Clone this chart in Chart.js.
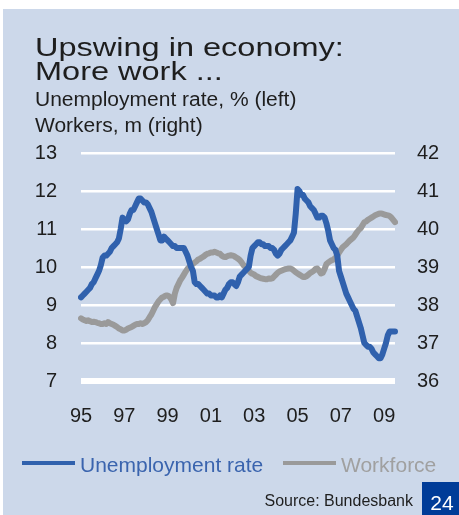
<!DOCTYPE html>
<html>
<head>
<meta charset="utf-8">
<script src="https://cdn.jsdelivr.net/npm/chart.js@4.4.0/dist/chart.umd.min.js"></script>
<style>
  html, body { margin: 0; padding: 0; background: #fff; }
  #wrap { position: relative; width: 459px; height: 515px; }
</style>
</head>
<body>
<div id="wrap"><canvas id="chart" width="459" height="515"></canvas></div>
<script>
// monthly series, Jan 1995 - Jul 2009
const unemployment = [
  9.2, 9.25, 9.3, 9.35, 9.4, 9.45, 9.55, 9.6, 9.7, 9.8, 9.9, 10.05,
  10.25, 10.3, 10.3, 10.35, 10.4, 10.5, 10.55, 10.6, 10.65, 10.75, 11.0, 11.3,
  11.25, 11.2, 11.25, 11.4, 11.5, 11.5, 11.6, 11.7, 11.8, 11.8, 11.75, 11.7,
  11.7, 11.65, 11.55, 11.45, 11.3, 11.15, 11.0, 10.85, 10.7, 10.7, 10.8, 10.75,
  10.7, 10.65, 10.6, 10.55, 10.55, 10.5, 10.5, 10.5, 10.5, 10.5, 10.4, 10.3,
  10.15, 10.0, 9.9, 9.6, 9.55, 9.55, 9.5, 9.45, 9.4, 9.35, 9.3, 9.3,
  9.25, 9.25, 9.25, 9.2, 9.2, 9.25, 9.2, 9.3, 9.4, 9.45, 9.55, 9.6,
  9.6, 9.55, 9.5, 9.6, 9.75, 9.8, 9.85, 9.9, 9.95, 10.0, 10.3, 10.5,
  10.55, 10.6, 10.65, 10.65, 10.6, 10.6, 10.55, 10.55, 10.55, 10.5, 10.5, 10.45,
  10.35, 10.3, 10.35, 10.45, 10.5, 10.55, 10.6, 10.65, 10.7, 10.8, 10.9, 11.4,
  12.05, 12.0, 11.9, 11.9, 11.8, 11.75, 11.7, 11.6, 11.55, 11.5, 11.4, 11.3,
  11.3, 11.35, 11.35, 11.3, 11.15, 10.95, 10.7, 10.6, 10.5, 10.45, 10.3, 9.9,
  9.75, 9.6, 9.45, 9.3, 9.2, 9.1, 9.0, 8.9, 8.85, 8.7, 8.55, 8.4,
  8.2, 8.0, 7.95, 7.9, 7.9, 7.85, 7.75, 7.7, 7.65, 7.6, 7.6, 7.7,
  7.85, 8.0, 8.2, 8.3, 8.3, 8.3, 8.3
];

const workforce = [
  37.65, 37.62, 37.6, 37.58, 37.6, 37.57, 37.55, 37.56, 37.55, 37.53, 37.52, 37.5,
  37.5, 37.52, 37.5, 37.55, 37.52, 37.5, 37.48, 37.45, 37.42, 37.38, 37.36, 37.33,
  37.33, 37.35, 37.38, 37.4, 37.42, 37.45, 37.48, 37.5, 37.5, 37.52, 37.5, 37.52,
  37.55, 37.6, 37.68, 37.75, 37.85, 37.95, 38.02, 38.1, 38.15, 38.2, 38.22, 38.25,
  38.25, 38.22, 38.15, 38.05, 38.3, 38.45, 38.55, 38.65, 38.72, 38.8, 38.88, 38.95,
  39.0, 39.05, 39.08, 39.12, 39.15, 39.2, 39.22, 39.25, 39.28, 39.32, 39.35, 39.36,
  39.38, 39.38, 39.4, 39.38, 39.36, 39.35, 39.3, 39.27, 39.26, 39.28, 39.3, 39.31,
  39.3, 39.28, 39.25, 39.22, 39.18, 39.12, 39.05, 39.0, 38.95, 38.9, 38.85, 38.82,
  38.8, 38.76, 38.74, 38.72, 38.7, 38.69, 38.68, 38.68, 38.7, 38.69, 38.7, 38.75,
  38.8, 38.85, 38.88, 38.9, 38.92, 38.94, 38.95, 38.96, 38.96, 38.94, 38.9, 38.86,
  38.83, 38.8, 38.77, 38.74, 38.74, 38.76, 38.8, 38.84, 38.87, 38.9, 38.95, 38.96,
  38.9, 38.83, 38.85, 38.95, 39.08, 39.12, 39.15, 39.18, 39.2, 39.24, 39.3, 39.38,
  39.45, 39.52, 39.56, 39.6, 39.65, 39.7, 39.74, 39.78, 39.85, 39.92, 39.98, 40.02,
  40.1, 40.18, 40.2, 40.24, 40.27, 40.3, 40.33, 40.36, 40.38, 40.4, 40.41, 40.4,
  40.38, 40.37, 40.36, 40.34, 40.3, 40.24, 40.18
];

const yearTicks = ['95', '97', '99', '01', '03', '05', '07', '09'];
const titleLines = ['Upswing in economy:', 'More work ...'];
const subtitleLines = ['Unemployment rate, % (left)', 'Workers, m (right)'];

const startYear = 1995;
const months = [];
for (let i = 0; i < unemployment.length; i++) {
  months.push((startYear + Math.floor(i / 12)) + '-' + String(i % 12 + 1).padStart(2, '0'));
}

const BLUE = '#3061ad';
const GREY = '#9a9a9a';
const FONT = '"Liberation Sans", Arial, sans-serif';

Chart.defaults.font.family = FONT;

function wideText(ctx, text, x, y, sx) {
  ctx.save();
  ctx.translate(x, y);
  ctx.scale(sx, 1);
  ctx.fillText(text, 0, 0);
  ctx.restore();
}

const decor = {
  id: 'decor',
  beforeDraw(chart) {
    const ctx = chart.ctx;
    ctx.save();
    ctx.fillStyle = '#ffffff';
    ctx.fillRect(0, 0, chart.width, chart.height);
    ctx.fillStyle = '#ccd8ea';
    ctx.fillRect(3, 9, chart.width - 3, chart.height - 9);
    ctx.restore();
  },
  afterDraw(chart) {
    const ctx = chart.ctx;
    ctx.save();
    ctx.textBaseline = 'alphabetic';
    ctx.textAlign = 'left';
    ctx.fillStyle = '#1e1e1e';

    ctx.font = '25px ' + FONT;
    wideText(ctx, titleLines[0], 35, 56, 1.3);
    wideText(ctx, titleLines[1], 35, 80, 1.3);

    ctx.font = '20px ' + FONT;
    wideText(ctx, subtitleLines[0], 35, 106, 1.05);
    wideText(ctx, subtitleLines[1], 35, 132, 1.05);

    // legend
    const items = [
      { x: 22, ds: chart.data.datasets[0], text: '#3a64ae' },
      { x: 283, ds: chart.data.datasets[1], text: '#a0a0a0' }
    ];
    ctx.font = '21px ' + FONT;
    items.forEach(it => {
      ctx.strokeStyle = it.ds.borderColor;
      ctx.lineWidth = 4;
      ctx.beginPath();
      ctx.moveTo(it.x, 463);
      ctx.lineTo(it.x + 53, 463);
      ctx.stroke();
      ctx.fillStyle = it.text;
      ctx.fillText(it.ds.label, it.x + 58, 472);
    });

    ctx.fillStyle = '#1e1e1e';
    ctx.font = '16px ' + FONT;
    ctx.textAlign = 'right';
    ctx.fillText('Source: Bundesbank', 413, 506);

    ctx.fillStyle = '#003c98';
    ctx.fillRect(422, 482, 37, 33);
    ctx.fillStyle = '#ffffff';
    ctx.font = '21px ' + FONT;
    ctx.textAlign = 'center';
    wideText(ctx, '24', 442, 510, 1);
    ctx.restore();
  }
};

new Chart(document.getElementById('chart'), {
  type: 'line',
  data: {
    labels: months,
    datasets: [
      {
        label: 'Unemployment rate',
        data: unemployment,
        yAxisID: 'y',
        borderColor: BLUE,
        borderWidth: 6,
        pointRadius: 0,
        tension: 0,
        borderJoinStyle: 'round',
        borderCapStyle: 'round'
      },
      {
        label: 'Workforce',
        data: workforce,
        yAxisID: 'y1',
        borderColor: GREY,
        borderWidth: 6,
        pointRadius: 0,
        tension: 0,
        borderJoinStyle: 'round',
        borderCapStyle: 'round'
      }
    ]
  },
  options: {
    responsive: false,
    animation: false,
    layout: { padding: { top: 153, bottom: 84, left: 0, right: 0 } },
    plugins: {
      legend: { display: false },
      tooltip: { enabled: false }
    },
    scales: {
      x: {
        grid: { display: false },
        border: { display: false },
        afterFit(scale) { scale.height = 50; },
        ticks: {
          autoSkip: false,
          maxRotation: 0,
          minRotation: 0,
          padding: 15,
          color: '#1e1e1e',
          font: { size: 20 },
          callback(value) {
            const label = months[value];
            if (label.slice(5) !== '01') return '';
            const yy = label.slice(2, 4);
            return yearTicks.includes(yy) ? yy : '';
          }
        }
      },
      y: {
        position: 'left',
        min: 7,
        max: 13,
        afterFit(scale) { scale.width = 81; },
        grid: {
          color: '#ffffff',
          lineWidth: ctx => (ctx.tick && ctx.tick.value === 7 ? 6 : 2.5),
          drawTicks: false
        },
        border: { display: false },
        ticks: { stepSize: 1, padding: 24, color: '#1e1e1e', font: { size: 20 } }
      },
      y1: {
        position: 'right',
        min: 36,
        max: 42,
        afterFit(scale) { scale.width = 64; },
        grid: { display: false, drawTicks: false },
        border: { display: false },
        ticks: { stepSize: 1, padding: 22, color: '#1e1e1e', font: { size: 20 } }
      }
    }
  },
  plugins: [decor]
});
</script>
</body>
</html>
